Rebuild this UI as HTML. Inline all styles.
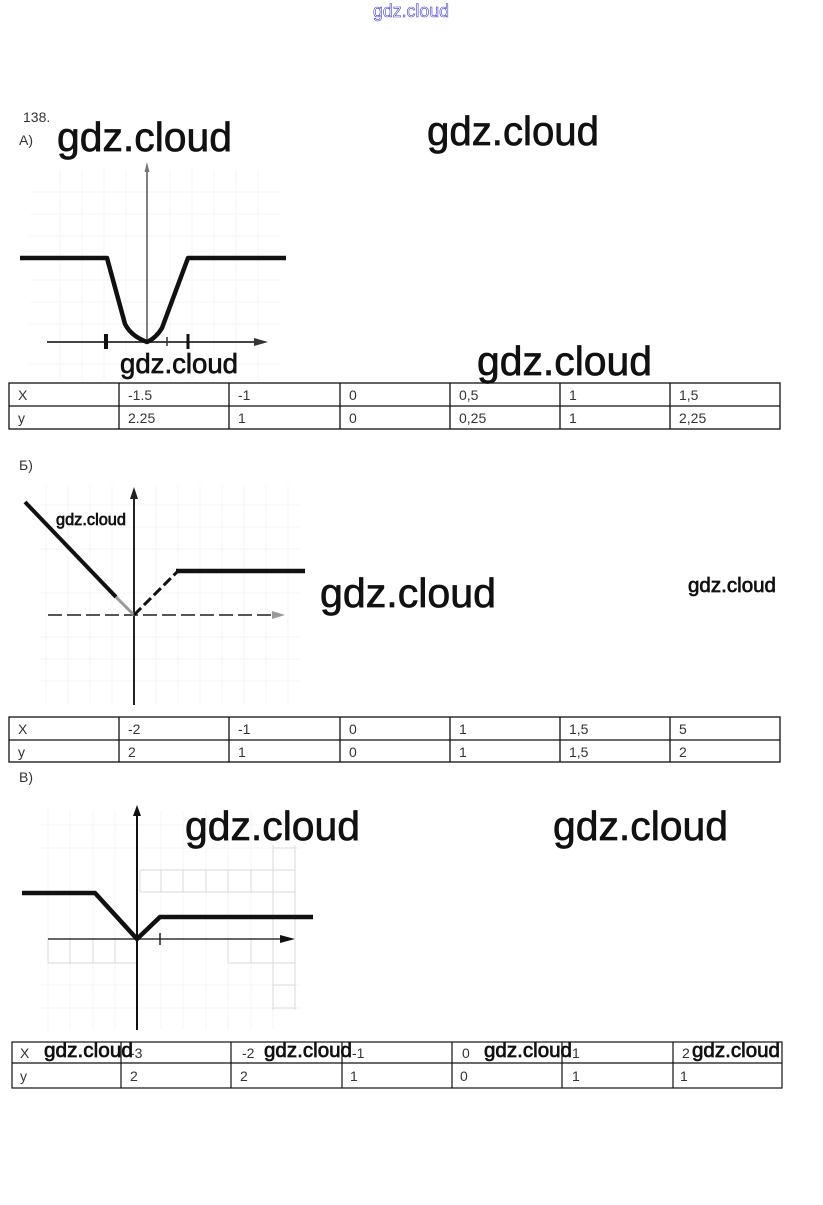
<!DOCTYPE html>
<html><head><meta charset="utf-8">
<style>
html,body{margin:0;padding:0;background:#fff;}
body{width:823px;height:1205px;overflow:hidden;position:relative;}
svg{position:absolute;left:0;top:0;}
.wm{font-family:"Liberation Sans",sans-serif;fill:#111;stroke:#111;stroke-width:0.7px;}
.t{font-family:"Liberation Sans",sans-serif;font-size:14px;fill:#333;}
</style></head>
<body>
<svg width="823" height="1205" viewBox="0 0 823 1205" xmlns="http://www.w3.org/2000/svg">
<!-- top watermark -->
<text x="373" y="17" font-family="Liberation Sans, sans-serif" font-size="18" fill="#fff" stroke="#3a3ad0" stroke-width="0.6" textLength="76" lengthAdjust="spacingAndGlyphs">gdz.cloud</text>

<!-- labels -->
<text x="23" y="122" class="t" font-size="13">138.</text>
<text x="19" y="145" class="t" font-size="13">А)</text>
<text x="19" y="470" class="t" font-size="13">Б)</text>
<text x="19" y="782" class="t" font-size="13">В)</text>

<!-- ===== Graph A ===== -->
<g stroke="#f4f4f4" stroke-width="1" fill="none">
  <path d="M60 170V380M82 170V380M104 170V380M126 170V380M170 170V380M192 170V380M214 170V380M236 170V380M258 170V380"/>
  <path d="M30 192H280M30 214H280M30 236H280M30 280H280M30 302H280M30 324H280M30 364H280"/>
</g>
<line x1="147" y1="168" x2="147" y2="342" stroke="#555" stroke-width="1.5"/>
<polygon points="147,162 144.5,172 149.5,172" fill="#777"/>
<line x1="47" y1="342" x2="258" y2="342" stroke="#444" stroke-width="2"/>
<polygon points="268,342 254,338 254,346" fill="#333"/>
<line x1="106" y1="334" x2="106" y2="349" stroke="#111" stroke-width="4"/>
<line x1="188" y1="334" x2="188" y2="349" stroke="#111" stroke-width="3"/>
<line x1="167" y1="337" x2="167" y2="346" stroke="#333" stroke-width="1.5"/>
<path d="M20 258H107L125 324Q131 336 147 342Q156 338 162 328L188 258H286" fill="none" stroke="#111" stroke-width="4.5" stroke-linejoin="round"/>

<!-- watermarks A -->
<text class="wm" x="57" y="151" font-size="41" textLength="175" lengthAdjust="spacingAndGlyphs">gdz.cloud</text>
<text class="wm" x="427" y="145" font-size="41" textLength="172" lengthAdjust="spacingAndGlyphs">gdz.cloud</text>
<text class="wm" x="120" y="373" font-size="28" stroke-width="0.5" textLength="118" lengthAdjust="spacingAndGlyphs">gdz.cloud</text>
<text class="wm" x="477" y="375" font-size="41" textLength="175" lengthAdjust="spacingAndGlyphs">gdz.cloud</text>

<!-- Table A -->
<g stroke="#111" stroke-width="1.3" fill="none">
  <rect x="9" y="383" width="771" height="46"/>
  <line x1="9" y1="406" x2="780" y2="406"/>
  <path d="M119 383V429M229 383V429M340 383V429M450 383V429M560 383V429M670 383V429"/>
</g>
<g class="t">
  <text x="18" y="400">X</text><text x="128" y="400">-1.5</text><text x="238" y="400">-1</text><text x="349" y="400">0</text><text x="459" y="400">0,5</text><text x="569" y="400">1</text><text x="679" y="400">1,5</text>
  <text x="18" y="423">y</text><text x="128" y="423">2.25</text><text x="238" y="423">1</text><text x="349" y="423">0</text><text x="459" y="423">0,25</text><text x="569" y="423">1</text><text x="679" y="423">2,25</text>
</g>

<!-- ===== Graph B ===== -->
<g stroke="#f4f4f4" stroke-width="1" fill="none">
  <path d="M46 485V705M68 485V705M90 485V705M112 485V705M156 485V705M178 485V705M200 485V705M222 485V705M244 485V705M266 485V705M288 485V705"/>
  <path d="M40 505H300M40 527H300M40 549H300M40 593H300M40 637H300M40 659H300M40 681H300"/>
</g>
<line x1="134" y1="495" x2="134" y2="705" stroke="#222" stroke-width="2"/>
<polygon points="134,487 130,499 138,499" fill="#222"/>
<line x1="48" y1="615" x2="275" y2="615" stroke="#555" stroke-width="2" stroke-dasharray="14 5"/>
<polygon points="285,615 272,611 272,619" fill="#999"/>
<path d="M25 502L116 597" stroke="#111" stroke-width="4" fill="none"/>
<path d="M116 597L134 615" stroke="#999" stroke-width="3" fill="none"/>
<path d="M134 615L178 571" stroke="#111" stroke-width="3" stroke-dasharray="10 4" fill="none"/>
<path d="M176 571H305" stroke="#111" stroke-width="4.5" fill="none"/>

<text class="wm" x="56" y="525" font-size="16.5" stroke-width="0.2" textLength="70" lengthAdjust="spacingAndGlyphs">gdz.cloud</text>
<text class="wm" x="320" y="607" font-size="41" textLength="176" lengthAdjust="spacingAndGlyphs">gdz.cloud</text>
<text class="wm" x="688" y="592" font-size="20.5" stroke-width="0.3" textLength="88" lengthAdjust="spacingAndGlyphs">gdz.cloud</text>

<!-- Table B -->
<g stroke="#111" stroke-width="1.3" fill="none">
  <rect x="9" y="717" width="771" height="45"/>
  <line x1="9" y1="740" x2="780" y2="740"/>
  <path d="M119 717V762M229 717V762M340 717V762M450 717V762M560 717V762M670 717V762"/>
</g>
<g class="t">
  <text x="18" y="734">X</text><text x="128" y="734">-2</text><text x="238" y="734">-1</text><text x="349" y="734">0</text><text x="459" y="734">1</text><text x="569" y="734">1,5</text><text x="679" y="734">5</text>
  <text x="18" y="757">y</text><text x="128" y="757">2</text><text x="238" y="757">1</text><text x="349" y="757">0</text><text x="459" y="757">1</text><text x="569" y="757">1,5</text><text x="679" y="757">2</text>
</g>

<!-- ===== Graph C ===== -->
<g stroke="#f5f5f5" stroke-width="1" fill="none">
  <path d="M48 810V1030M70 810V1030M93 810V1030M115 810V1030M161 810V1030M183 810V1030M206 810V1030M228 810V1030M251 810V1030M273 810V1030"/>
  <path d="M40 825H300M40 848H300M40 985H300M40 1008H300"/>
</g>
<g stroke="#d8d8d8" stroke-width="1" fill="none">
  <path d="M140 870H295M140 892H295M140 870V892M161 870V892M183 870V892M206 870V892M228 870V892M251 870V892M273 870V892M295 870V892"/>
  <path d="M48 963H137M48 939V963M70 939V963M93 939V963M115 939V963"/>
  <path d="M228 963H295M228 939V963M251 939V963M273 939V963M295 939V963"/>
  <path d="M273 845V1010M295 845V1010M273 848H295M273 985H295M273 1008H295"/>
</g>
<line x1="137" y1="812" x2="137" y2="1030" stroke="#111" stroke-width="2"/>
<polygon points="137,805 133,816 141,816" fill="#111"/>
<line x1="48" y1="939" x2="282" y2="939" stroke="#333" stroke-width="1.5"/>
<polygon points="295,939 280,935 280,943" fill="#111"/>
<line x1="160" y1="933" x2="160" y2="945" stroke="#222" stroke-width="1.5"/>
<path d="M22 893H95L137 939L160 917H313" fill="none" stroke="#111" stroke-width="4.5" stroke-linejoin="round"/>

<text class="wm" x="185" y="840" font-size="41" textLength="175" lengthAdjust="spacingAndGlyphs">gdz.cloud</text>
<text class="wm" x="553" y="840" font-size="41" textLength="175" lengthAdjust="spacingAndGlyphs">gdz.cloud</text>

<!-- Table C -->
<g stroke="#111" stroke-width="1.2" fill="none">
  <rect x="12" y="1042" width="770" height="46"/>
  <line x1="12" y1="1063" x2="782" y2="1063"/>
  <path d="M121 1042V1088M231 1042V1088M342 1042V1088M452 1042V1088M562 1042V1088M673 1042V1088"/>
</g>
<g class="t" font-size="13" fill="#555">
  <text x="20" y="1058">X</text><text x="130" y="1058">-3</text><text x="242" y="1058">-2</text><text x="352" y="1058">-1</text><text x="462" y="1058">0</text><text x="572" y="1058">1</text><text x="682" y="1058">2</text>
  <text x="20" y="1081">y</text><text x="130" y="1081">2</text><text x="240" y="1081">2</text><text x="350" y="1081">1</text><text x="460" y="1081">0</text><text x="572" y="1081">1</text><text x="680" y="1081">1</text>
</g>
<text class="wm" x="44" y="1057" font-size="20.5" stroke-width="0.3" textLength="89" lengthAdjust="spacingAndGlyphs">gdz.cloud</text>
<text class="wm" x="264" y="1057" font-size="20.5" stroke-width="0.3" textLength="88" lengthAdjust="spacingAndGlyphs">gdz.cloud</text>
<text class="wm" x="484" y="1057" font-size="20.5" stroke-width="0.3" textLength="88" lengthAdjust="spacingAndGlyphs">gdz.cloud</text>
<text class="wm" x="692" y="1057" font-size="20.5" stroke-width="0.3" textLength="88" lengthAdjust="spacingAndGlyphs">gdz.cloud</text>
</svg>
</body></html>
